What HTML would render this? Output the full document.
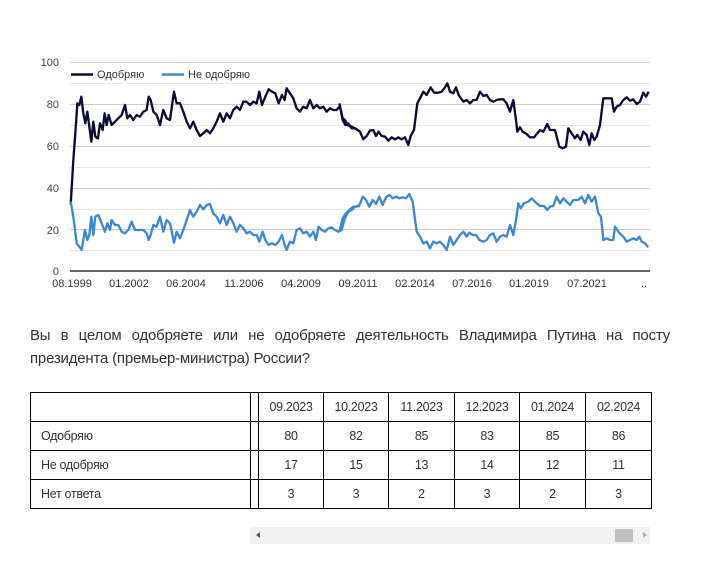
<!DOCTYPE html>
<html><head><meta charset="utf-8"><style>
body{margin:0;background:#fff;width:705px;height:561px;overflow:hidden;font-family:"Liberation Sans",sans-serif;position:relative}
.p{position:absolute;left:30px;top:324px;width:640px;font-size:15px;line-height:23px;color:#333;text-align:justify;text-align-last:left;letter-spacing:-0.2px}
table{position:absolute;left:30px;top:392px;width:621px;table-layout:fixed;border-collapse:collapse;font-size:12.5px;color:#333;letter-spacing:-0.3px}
td{border:1px solid #000;height:28px;padding:0;text-align:center}
td.l{text-align:left;padding-left:10px}
</style></head><body>
<svg width="705" height="320" style="position:absolute;left:0;top:0" font-family="Liberation Sans, sans-serif">
<g stroke="#ccc" stroke-width="1">
<line x1="70" x2="650" y1="62.5" y2="62.5"/><line x1="70" x2="650" y1="83.5" y2="83.5" stroke="#e6e6e6"/>
<line x1="70" x2="650" y1="104.5" y2="104.5"/><line x1="70" x2="650" y1="125.5" y2="125.5" stroke="#e6e6e6"/>
<line x1="70" x2="650" y1="146.5" y2="146.5"/><line x1="70" x2="650" y1="167.5" y2="167.5" stroke="#e6e6e6"/>
<line x1="70" x2="650" y1="188.5" y2="188.5"/><line x1="70" x2="650" y1="209.5" y2="209.5" stroke="#e6e6e6"/>
<line x1="70" x2="650" y1="229.5" y2="229.5"/><line x1="70" x2="650" y1="250.5" y2="250.5" stroke="#e6e6e6"/>
</g>
<line x1="70" x2="650" y1="271" y2="271" stroke="#333" stroke-width="1.5"/>
<g font-size="11" fill="#444" text-anchor="end">
<text x="59" y="66">100</text><text x="59" y="108">80</text><text x="59" y="150">60</text><text x="59" y="192">40</text><text x="59" y="234">20</text><text x="59" y="275">0</text>
</g>
<g font-size="11" fill="#333" text-anchor="middle">
<text x="72" y="287">08.1999</text><text x="129" y="287">01.2002</text><text x="186" y="287">06.2004</text><text x="244" y="287">11.2006</text><text x="301" y="287">04.2009</text><text x="358" y="287">09.2011</text><text x="415" y="287">02.2014</text><text x="472" y="287">07.2016</text><text x="529" y="287">01.2019</text><text x="587" y="287">07.2021</text><text x="644" y="287">..</text>
</g>
<line x1="71" x2="93" y1="74.5" y2="74.5" stroke="#0b0b35" stroke-width="2.5"/>
<text x="97" y="78" font-size="11" fill="#333">Одобряю</text>
<line x1="162" x2="184" y1="74.5" y2="74.5" stroke="#3d88d0" stroke-width="2.5"/>
<text x="188" y="78" font-size="11" fill="#333">Не одобряю</text>
<g fill="none" stroke-width="7" stroke-linejoin="round">
<g transform="translate(30,50) scale(0.3333)">
<polyline stroke="#0b0b35" points="122,465 130,330 136,250 142,160 148,165 154,140 160,190 166,220 172,185 178,230 184,275 190,215 196,260 204,265 210,220 218,240 224,190 230,225 236,195 245,225 255,215 265,205 275,195 285,165 292,205 300,195 310,210 320,195 330,200 340,185 350,180 356,140 362,150 370,185 380,195 390,225 400,180 410,205 420,210 432,125 440,160 450,160 460,185 470,215 480,235 490,215 500,240 510,258 520,250 530,240 540,250 550,235 560,215 570,190 580,215 590,190 600,205 610,180 620,170 630,180 640,155 650,155 660,165 670,155 680,160 688,125 696,165 706,140 716,118 726,125 736,130 746,160 756,135 764,150 770,115 780,130 790,145 800,175 810,185 820,170 830,175 840,150 850,175 860,165 870,175 880,170 890,185 900,175 910,180 920,180 930,168 938,210 946,225 955,220 965,235 975,235 990,245"/>
<polyline stroke="#3d88d0" points="122,455 130,500 140,580 148,590 155,600 165,540 172,570 178,555 184,500 190,555 196,500 205,495 215,520 225,545 232,520 240,540 245,510 255,525 265,525 275,545 285,550 295,540 305,515 315,540 325,540 340,540 350,550 356,570 362,555 370,525 380,530 390,500 400,545 410,510 420,520 432,578 440,545 450,565 460,540 470,510 480,480 490,500 500,485 510,465 520,478 530,465 540,462 550,490 560,500 570,520 580,495 590,525 600,500 610,520 620,545 630,525 640,535 650,550 660,545 670,555 680,555 688,575 698,545 706,570 716,585 726,580 736,585 746,575 756,555 764,585 770,600 780,575 790,580 800,540 810,535 820,550 830,545 840,560 850,545 858,570 866,530 875,540 885,545 895,535 905,532 915,540 925,545 935,540 945,505 955,485 965,480 975,470 990,468"/>
</g>
<g transform="translate(340,50) scale(0.3333)">
<polyline stroke="#0b0b35" points="-2,160 8,205 15,210 22,225 35,230 50,238 60,245 70,268 80,258 90,242 100,240 108,258 116,245 125,258 135,260 145,272 155,262 165,268 175,262 185,268 195,262 205,285 212,258 222,240 232,160 240,145 250,125 260,135 272,112 282,128 295,128 305,125 315,112 322,100 330,125 340,130 348,112 356,135 370,155 380,150 390,160 400,150 410,150 420,125 430,138 440,135 450,150 460,155 470,150 480,148 490,148 500,160 510,185 520,150 528,210 532,245 540,232 548,245 560,252 570,262 582,262 592,250 600,240 610,245 622,222 630,240 645,240 658,290 668,295 678,290 685,235 695,250 705,265 712,255 722,270 730,245 740,255 748,285 755,250 763,270 770,260 780,225 790,145 800,145 815,145 822,185 830,170 840,165 850,150 860,142 870,152 880,148 890,162 900,155 910,128 918,140 926,125"/>
<polyline stroke="#3d88d0" points="-2,545 8,505 18,490 28,480 40,470 50,470 60,462 68,440 78,450 88,470 98,450 108,462 118,440 128,465 138,442 148,435 158,445 168,440 178,445 188,442 198,445 208,432 218,455 230,545 240,560 250,580 260,575 270,595 280,575 290,580 300,575 310,585 320,600 330,560 340,585 350,570 360,555 370,545 380,560 388,548 398,555 408,555 418,570 430,575 440,570 450,555 460,550 470,575 480,560 490,555 500,560 510,525 520,555 528,510 535,460 542,475 552,460 565,455 575,445 590,460 600,468 612,468 622,480 630,470 640,468 650,440 660,460 670,445 680,455 690,465 700,450 715,450 725,440 735,460 745,435 755,455 765,440 775,490 783,500 790,570 800,565 810,570 820,570 825,530 835,545 850,560 860,575 870,570 880,565 890,570 898,560 905,575 915,580 925,592"/>
</g>
</g>
</svg>
<div class="p">Вы в целом одобряете или не одобряете деятельность Владимира Путина на посту президента (премьер-министра) России?</div>
<table>
<colgroup><col style="width:220px"><col style="width:8px"><col style="width:65px"><col style="width:65px"><col style="width:66px"><col style="width:65px"><col style="width:66px"><col style="width:66px"></colgroup>
<tr><td class="l"></td><td></td><td>09.2023</td><td>10.2023</td><td>11.2023</td><td>12.2023</td><td>01.2024</td><td>02.2024</td></tr>
<tr><td class="l">Одобряю</td><td></td><td>80</td><td>82</td><td>85</td><td>83</td><td>85</td><td>86</td></tr>
<tr><td class="l">Не одобряю</td><td></td><td>17</td><td>15</td><td>13</td><td>14</td><td>12</td><td>11</td></tr>
<tr><td class="l">Нет ответа</td><td></td><td>3</td><td>3</td><td>2</td><td>3</td><td>2</td><td>3</td></tr>
</table>
<div style="position:absolute;left:250px;top:527px;width:400px;height:17px;background:#f1f1f1"></div>
<div style="position:absolute;left:615px;top:529px;width:18px;height:13px;background:#c1c1c1"></div>
<div style="position:absolute;left:256px;top:532px;width:0;height:0;border-top:3px solid transparent;border-bottom:3px solid transparent;border-right:4px solid #555"></div>
<div style="position:absolute;left:643px;top:532px;width:0;height:0;border-top:3px solid transparent;border-bottom:3px solid transparent;border-left:4px solid #aaa"></div>
</body></html>
